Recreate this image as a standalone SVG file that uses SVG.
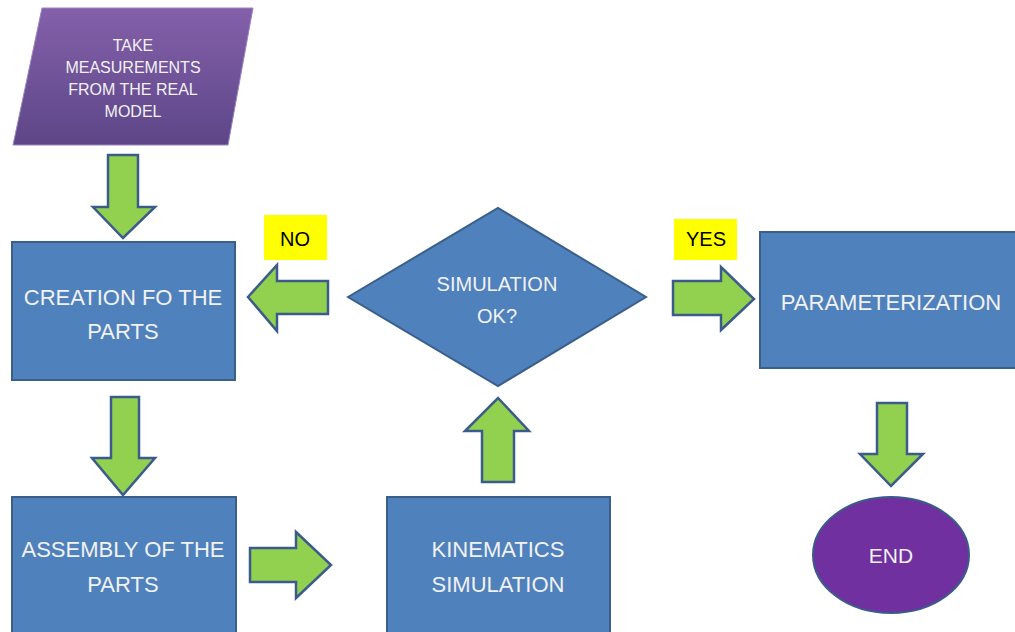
<svg xmlns="http://www.w3.org/2000/svg" width="1015" height="632" viewBox="0 0 1015 632">
<defs>
<linearGradient id="pg" x1="0" y1="0" x2="0" y2="1">
<stop offset="0" stop-color="#8460aa"/>
<stop offset="1" stop-color="#5d4688"/>
</linearGradient>
<style>
.box{fill:#4f81bd;stroke:#3a5f8b;stroke-width:2}
.arr{fill:#92d050;stroke:#3b5b8a;stroke-width:2.5;stroke-linejoin:miter}
.t{font-family:"Liberation Sans",Arial,sans-serif;fill:#f2f2f2;text-anchor:middle}
.lbl{font-family:"Liberation Sans",Arial,sans-serif;fill:#000;text-anchor:middle;font-size:20px}
.tag{fill:#ffff00}
</style>
</defs>
<rect width="1015" height="632" fill="#ffffff"/>

<g id="measure">
<polygon points="42,8 253,8 228,145 13,145" fill="url(#pg)" stroke="#9a86bf" stroke-width="1"/>
<text class="t" font-size="16" fill="#e6e6e6"><tspan x="133" y="51">TAKE</tspan><tspan x="133" y="73">MEASUREMENTS</tspan><tspan x="133" y="95">FROM THE REAL</tspan><tspan x="133" y="117">MODEL</tspan></text>
</g>

<g id="creation">
<rect class="box" x="12" y="242" width="223" height="138"/>
<text class="t" font-size="22"><tspan x="123" y="305">CREATION FO THE</tspan><tspan x="123" y="339">PARTS</tspan></text>
</g>

<g id="decision">
<polygon class="box" points="348,297 498,208 646,297 498,386"/>
<text class="t" font-size="20"><tspan x="497" y="291">SIMULATION</tspan><tspan x="497" y="323">OK?</tspan></text>
</g>

<g id="parameterization">
<rect class="box" x="760" y="232" width="262" height="136"/>
<text class="t" font-size="22" x="891" y="310">PARAMETERIZATION</text>
</g>

<g id="assembly">
<rect class="box" x="12" y="497" width="224" height="140"/>
<text class="t" font-size="22"><tspan x="123" y="557">ASSEMBLY OF THE</tspan><tspan x="123" y="592">PARTS</tspan></text>
</g>

<g id="kinematics">
<rect class="box" x="387" y="497" width="223" height="140"/>
<text class="t" font-size="22"><tspan x="498" y="557">KINEMATICS</tspan><tspan x="498" y="592">SIMULATION</tspan></text>
</g>

<g id="end">
<ellipse cx="891" cy="555" rx="78" ry="58" fill="#7030a0" stroke="#3b5b8a" stroke-width="2"/>
<text class="t" font-size="21" x="891" y="563">END</text>
</g>

<g id="label-no">
<rect class="tag" x="264" y="215" width="63" height="45"/>
<text class="lbl" x="295" y="246">NO</text>
</g>

<g id="label-yes">
<rect class="tag" x="674" y="219" width="63" height="41"/>
<text class="lbl" x="706" y="246">YES</text>
</g>

<g id="connectors">
<polygon class="arr" points="108,155 138,155 138,207 155,207 123,238 93,207 108,207"/>
<polygon class="arr" points="111,397 139,397 139,458 155,458 123,495 92,458 111,458"/>
<polygon class="arr" points="250,548 296,548 296,532 331,565 296,598 296,582 250,582"/>
<polygon class="arr" points="482,482 514,482 514,431 529,431 498,398 465,431 482,431"/>
<polygon class="arr" points="328,281 277,281 277,265 248,297 277,331 277,314 328,314"/>
<polygon class="arr" points="673,281 721,281 721,267 754,299 721,330 721,315 673,315"/>
<polygon class="arr" points="877,403 907,403 907,454 923,454 891,486 860,454 877,454"/>
</g>
</svg>
